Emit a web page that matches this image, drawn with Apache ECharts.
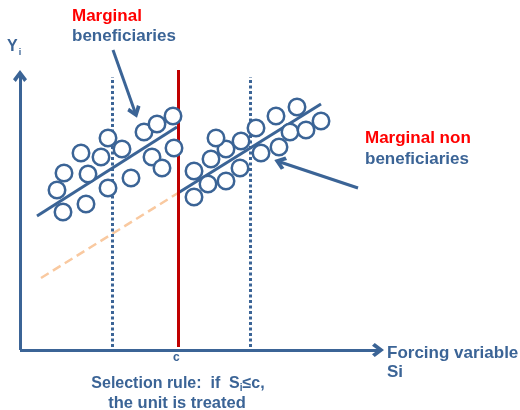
<!DOCTYPE html>
<html><head><meta charset="utf-8">
<script src="https://cdn.jsdelivr.net/npm/echarts@6/dist/echarts.min.js"></script>
<style>html,body{margin:0;padding:0;background:#fff}#c{width:520px;height:410px}</style>
</head><body><div id="c"></div>
<script>
// Scatter points (forcing variable S, outcome Y), left of cutoff = treated
const treatedPoints = [[21.5,69],[33,73],[18.5,80],[22,88.5],[34,88],[30.5,98.5],[40.5,96.5],[44,81],[44,106],[51,100.5],[55.5,86],[62,109],[68.5,113],[76.5,117],[66,96.5],[71,91],[77,101]];
const untreatedPoints = [[87,76.5],[87,89.5],[94,83],[95.5,95.5],[103,84.5],[103,100.5],[98,106],[110.5,104.5],[110,91],[118,111],[120.5,98.5],[128,117],[129.5,101.5],[135,109],[138.5,121.5],[143,110],[150.5,114.5]];
// Regression lines
const leftFit = [[8.5,67],[78.5,111.5]];
const rightFit = [[79,78.5],[150.5,123]];
const counterfactual = [[10.5,36],[79,78.5]];
// Cutoff and bandwidth lines
const cutoffX = 79;
const cutoffTop = 140;
const bandLeftX = 46;
const bandRightX = 115;
const bandTop = 136.5;
const lineBottom = 1.5;
// Axes extents
const xAxisEnd = 179;
const yAxisEnd = 137;
// Annotation arrows
const arrowTop = [[46.5,150],[57.5,119]];
const arrowRight = [[169,81],[130,94]];

const blue = '#3B6496';
const red = '#FF0000';
const font = "'Liberation Sans', Arial, sans-serif";
const chevron = 'path://M0,8.5 L6,0 L12,8.5 L9.6,11 L6,5.6 L2.4,11 Z';

function seg(a, b, style, sym) {
  return [{coord: a, symbol: 'none', lineStyle: style}, {coord: b, symbol: sym || 'none'}];
}

const chart = echarts.init(document.getElementById('c'), null, {renderer: 'canvas'});
chart.setOption({
  animation: false,
  grid: {left: 20, right: 0, top: 0, bottom: 60},
  xAxis: {type: 'value', min: 0, max: 250, show: false},
  yAxis: {type: 'value', min: 0, max: 175, show: false},
  series: [
    {type: 'line', data: counterfactual, symbol: 'none', z: 1,
     lineStyle: {color: '#F9C9A0', width: 2.5, type: [9, 5]}},
    {type: 'line', data: leftFit, symbol: 'none', z: 2, lineStyle: {color: blue, width: 3}},
    {type: 'line', data: rightFit, symbol: 'none', z: 2, lineStyle: {color: blue, width: 3}},
    {type: 'line', data: [], symbol: 'none', z: 3,
     markLine: {silent: true, symbol: 'none', label: {show: false}, animation: false,
       data: [
         seg([bandLeftX, lineBottom], [bandLeftX, bandTop], {color: blue, width: 3, type: [3, 2.5]}),
         seg([bandRightX, lineBottom], [bandRightX, bandTop], {color: blue, width: 3, type: [3, 2.5]}),
         seg([cutoffX, lineBottom], [cutoffX, cutoffTop], {color: '#C00000', width: 3, type: 'solid'})
       ]}},
    {type: 'scatter', data: treatedPoints.concat(untreatedPoints), symbol: 'circle', symbolSize: 16.5, z: 5,
     itemStyle: {color: '#fff', borderColor: blue, borderWidth: 2.5, opacity: 1}},
    {type: 'line', data: [], symbol: 'none', z: 6,
     markLine: {silent: true, label: {show: false}, animation: false, symbolSize: [14, 12],
       data: [
         seg([0, 0], [xAxisEnd, 0], {color: blue, width: 3, type: 'solid'}, chevron),
         seg([0, 0], [0, yAxisEnd], {color: blue, width: 3, type: 'solid'}, chevron),
         seg(arrowTop[0], arrowTop[1], {color: blue, width: 3, type: 'solid'}, chevron),
         seg(arrowRight[0], arrowRight[1], {color: blue, width: 3, type: 'solid'}, chevron)
       ]}}
  ],
  graphic: [
    {type: 'text', left: 72, top: 8, style: {text: 'Marginal', fill: red, font: 'bold 17px ' + font}},
    {type: 'text', left: 72, top: 28, style: {text: 'beneficiaries', fill: blue, font: 'bold 17px ' + font}},
    {type: 'text', left: 7, top: 39, style: {text: '{a|Y}{b|i}', fill: blue,
      rich: {a: {font: 'bold 16px ' + font, fill: blue}, b: {font: 'bold 9px ' + font, fill: blue, padding: [11, 0, 0, 1]}}}},
    {type: 'text', left: 365, top: 130, style: {text: 'Marginal non', fill: red, font: 'bold 17px ' + font}},
    {type: 'text', left: 365, top: 151, style: {text: 'beneficiaries', fill: blue, font: 'bold 17px ' + font}},
    {type: 'text', left: 173, top: 352, style: {text: 'c', fill: blue, font: 'bold 12px ' + font}},
    {type: 'text', left: 387, top: 345, style: {text: 'Forcing variable', fill: blue, font: 'bold 17px ' + font}},
    {type: 'text', left: 387, top: 364, style: {text: 'Si', fill: blue, font: 'bold 17px ' + font}},
    {type: 'text', x: 178, y: 384, style: {text: '{a|Selection rule:  if  S}{b|i}{a|≤c,}', align: 'center', verticalAlign: 'middle',
      rich: {a: {font: 'bold 16px ' + font, fill: blue}, b: {font: 'bold 10px ' + font, fill: blue, padding: [8, 0, 0, 0]}}}},
    {type: 'text', x: 177, y: 403, style: {text: 'the unit is treated', align: 'center', verticalAlign: 'middle', fill: blue, font: 'bold 16.5px ' + font}}
  ]
});
</script></body></html>
